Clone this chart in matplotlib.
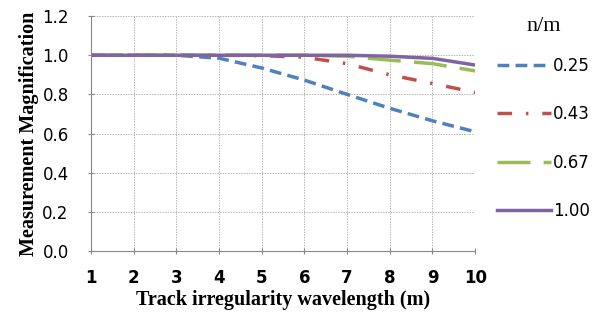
import numpy as np
import matplotlib
matplotlib.use("Agg")
import matplotlib.pyplot as plt

# wavelengths (m)
wavelength = [1, 2, 3, 4, 5, 6, 7, 8, 9, 10]

# measurement magnification for each n/m value
mag_025 = [1.0, 1.0, 1.0, 0.985, 0.935, 0.873, 0.80, 0.729, 0.665, 0.609]
mag_043 = [1.0, 1.0, 1.0, 1.0, 0.998, 0.99, 0.957, 0.90, 0.856, 0.81]
mag_067 = [1.0, 1.0, 1.0, 1.0, 1.0, 1.0, 0.995, 0.975, 0.957, 0.92]
mag_100 = [1.0, 1.0, 1.0, 1.0, 1.0, 1.0, 1.0, 0.995, 0.984, 0.95]

labels = ['0.25', '0.43', '0.67', '1.00']
yticks = [0.0, 0.2, 0.4, 0.6, 0.8, 1.0, 1.2]

fig = plt.figure(figsize=(5.94, 3.22), dpi=100)
ax = fig.add_axes([0.153, 0.2205, 0.647, 0.7295])

ax.plot(wavelength, mag_025, color='#4F81BD', lw=2.5, dashes=(3.4, 1.8), label=labels[0])
ax.plot(wavelength, mag_043, color='#C0504D', lw=2.5, dashes=(4.2, 4, 0.7, 4), label=labels[1])
ax.plot(wavelength, mag_067, color='#9BBB59', lw=2.5, dashes=(9.5, 3.8), label=labels[2])
ax.plot(wavelength, mag_100, color='#8064A2', lw=2.5, label=labels[3])

ax.set_xlim(1, 10)
ax.set_ylim(0, 1.2)
ax.set_xticks(wavelength)
ax.set_yticks(yticks)
ax.set_yticklabels([f'{v:.1f}' for v in yticks], fontsize=12)
ax.set_xticklabels([str(w) for w in wavelength], fontsize=12, fontweight='bold')
ax.grid(True, color='#b5b5b5', linestyle=(0, (1.5, 1.2)), linewidth=0.7)
for s in ['top', 'right']:
    ax.spines[s].set_visible(False)
ax.spines['left'].set_color('#888888')
ax.spines['bottom'].set_color('#888888')
ax.tick_params(axis='both', color='#888888', length=4, direction='inout')
ax.tick_params(axis='x', pad=11)
ax.tick_params(axis='y', pad=14)

ax.set_xlabel('Track irregularity wavelength (m)', family='Liberation Serif',
              fontweight='bold', fontsize=14.5, labelpad=2)
ax.set_ylabel('Measurement Magnification', family='Liberation Serif',
              fontweight='bold', fontsize=14.5, labelpad=2)

leg = ax.legend(loc='upper left', bbox_to_anchor=(1.04, 1.025), frameon=False,
                title='n/m', fontsize=12, handlelength=3.2, handletextpad=0.15,
                labelspacing=1.83, borderaxespad=0)
leg.get_title().set_family('Liberation Serif')
leg.get_title().set_fontsize(16)
leg._legend_box.sep = 15

fig.savefig('out.png', dpi=100)
